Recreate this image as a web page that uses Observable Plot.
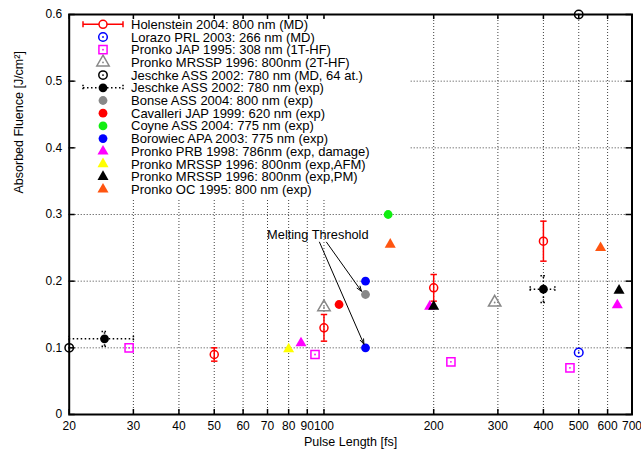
<!DOCTYPE html>
<html><head><meta charset="utf-8">
<script src="https://cdn.jsdelivr.net/npm/d3@7"></script>
<script src="https://cdn.jsdelivr.net/npm/@observablehq/plot@0.6"></script>
<style>
body{margin:0;background:#fff;}
#wrap{position:relative;width:641px;height:451px;font-family:"Liberation Sans",Arial,sans-serif;}
#wrap svg.overlay{position:absolute;left:0;top:0;pointer-events:none;}
</style></head><body><div id="wrap"></div>
<script>
// ---------- data ----------
const xTicks = [20, 30, 40, 50, 60, 70, 80, 90, 100, 200, 300, 400, 500, 600, 700];
const yTicks = [0, 0.1, 0.2, 0.3, 0.4, 0.5, 0.6];
const xLabel = "Pulse Length [fs]";
const yLabel = "Absorbed Fluence [J/cm²]";

const seriesNames = [
  "Holenstein 2004: 800 nm (MD)",
  "Lorazo PRL 2003: 266 nm (MD)",
  "Pronko JAP 1995: 308 nm (1T-HF)",
  "Pronko MRSSP 1996: 800nm (2T-HF)",
  "Jeschke ASS 2002: 780 nm (MD, 64 at.)",
  "Jeschke ASS 2002: 780 nm (exp)",
  "Bonse ASS 2004: 800 nm (exp)",
  "Cavalleri JAP 1999: 620 nm (exp)",
  "Coyne ASS 2004: 775 nm (exp)",
  "Borowiec APA 2003: 775 nm (exp)",
  "Pronko PRB 1998: 786nm (exp, damage)",
  "Pronko MRSSP 1996: 800nm (exp,AFM)",
  "Pronko MRSSP 1996: 800nm (exp,PM)",
  "Pronko OC 1995: 800 nm (exp)"
];

const holensteinX = [50, 100, 200, 400];
const holensteinY = [0.09, 0.13, 0.19, 0.26];
const holensteinErr = [0.01, 0.02, 0.02, 0.03];
const lorazoX = [500];
const lorazoY = [0.093];
const pronkoJapX = [29.2, 94.5, 223, 473];
const pronkoJapY = [0.1, 0.09, 0.079, 0.07];
const pronko2tX = [100, 294];
const pronko2tY = [0.161, 0.168];
const jeschkeMdX = [20, 500];
const jeschkeMdY = [0.1, 0.6];
const jeschkeExpX = [25, 400];
const jeschkeExpY = [0.1135, 0.188];
const jeschkeExpXLow = [20, 368];
const jeschkeExpXHigh = [30, 430];
const jeschkeExpYErr = [0.011, 0.02];
const bonseX = [130, 130];
const bonseY = [0.35, 0.18];
const cavalleriX = [110];
const cavalleriY = [0.165];
const coyneX = [150];
const coyneY = [0.3];
const borowiecX = [130, 130];
const borowiecY = [0.2, 0.1];
const pronkoPrbX = [86.5, 195, 638];
const pronkoPrbY = [0.107, 0.162, 0.164];
const pronkoAfmX = [80];
const pronkoAfmY = [0.098];
const pronkoPmX = [200, 645];
const pronkoPmY = [0.162, 0.186];
const pronkoOcX = [152, 574];
const pronkoOcY = [0.255, 0.25];

const annotationText = ["Melting Threshold"];
const annotationX = [96.2];
const annotationY = [0.27];
const arrowFromX = [97.2, 101.6];
const arrowFromY = [0.2585, 0.2585];
const arrowToX = [130, 128.6];
const arrowToY = [0.1, 0.18];

// ---------- styles ----------
const styles = [
  {color: "#ff0000", symbol: "circle", fill: false, dot: false, r: 4, err: "y"},
  {color: "#0000ff", symbol: "circle", fill: false, dot: true, r: 4.3},
  {color: "#ff00ff", symbol: "square", fill: false, dot: true, r: 4.6},
  {color: "#888888", symbol: "triangle", fill: false, dot: true, r: 4.6},
  {color: "#000000", symbol: "circle", fill: false, dot: true, r: 4.2},
  {color: "#000000", symbol: "circle", fill: true, dot: false, r: 4.4, err: "xy"},
  {color: "#888888", symbol: "circle", fill: true, dot: false, r: 4.4},
  {color: "#ff0000", symbol: "circle", fill: true, dot: false, r: 4.4},
  {color: "#11ee11", symbol: "circle", fill: true, dot: false, r: 4.4},
  {color: "#0000ff", symbol: "circle", fill: true, dot: false, r: 4.4},
  {color: "#ff00ff", symbol: "triangle", fill: true, dot: false, r: 4.1},
  {color: "#ffff00", symbol: "triangle", fill: true, dot: false, r: 4.1},
  {color: "#000000", symbol: "triangle", fill: true, dot: false, r: 4.1},
  {color: "#ff5511", symbol: "triangle", fill: true, dot: false, r: 4.1}
];

const zipXY = (xs, ys, extra = {}) => xs.map((x, i) => {
  const o = {x, y: ys[i]};
  for (const k in extra) o[k] = extra[k][i];
  return o;
});

const seriesData = [
  zipXY(holensteinX, holensteinY, {e: holensteinErr}),
  zipXY(lorazoX, lorazoY),
  zipXY(pronkoJapX, pronkoJapY),
  zipXY(pronko2tX, pronko2tY),
  zipXY(jeschkeMdX, jeschkeMdY),
  zipXY(jeschkeExpX, jeschkeExpY, {xl: jeschkeExpXLow, xh: jeschkeExpXHigh, e: jeschkeExpYErr}),
  zipXY(bonseX, bonseY),
  zipXY(cavalleriX, cavalleriY),
  zipXY(coyneX, coyneY),
  zipXY(borowiecX, borowiecY),
  zipXY(pronkoPrbX, pronkoPrbY),
  zipXY(pronkoAfmX, pronkoAfmY),
  zipXY(pronkoPmX, pronkoPmY),
  zipXY(pronkoOcX, pronkoOcY)
];

// custom cap symbols
const hcap = {draw(ctx, size) { const w = Math.sqrt(size / Math.PI); ctx.moveTo(-w, 0); ctx.lineTo(w, 0); }};
const vcap = {draw(ctx, size) { const w = Math.sqrt(size / Math.PI); ctx.moveTo(0, -w); ctx.lineTo(0, w); }};

// ---------- layout ----------
const W = 641, H = 451;
const mL = 68.7, mR = 9.5, mT = 14, mB = 37;
const frameW = W - mL - mR, frameH = H - mT - mB;
const FONT = "'Liberation Sans', Arial, Helvetica, sans-serif";

const marks = [];
// grid
marks.push(Plot.gridX(xTicks.slice(1, -1), {stroke: "#000", strokeOpacity: 0.75, strokeWidth: 1, strokeDasharray: "1,2"}));
marks.push(Plot.gridY(yTicks.slice(1, -1), {stroke: "#000", strokeOpacity: 0.75, strokeWidth: 1, strokeDasharray: "1,2"}));
// inward ticks
marks.push(Plot.tickX(xTicks, {insetTop: frameH - 5, stroke: "#000", strokeWidth: 1.5}));
marks.push(Plot.tickX(xTicks, {insetBottom: frameH - 5, stroke: "#000", strokeWidth: 1.5}));
marks.push(Plot.tickY(yTicks, {insetRight: frameW - 6, stroke: "#000", strokeWidth: 1.5}));
marks.push(Plot.tickY(yTicks, {insetLeft: frameW - 6, stroke: "#000", strokeWidth: 1.5}));
// tick labels
marks.push(Plot.text(xTicks, {x: d => d, text: d => String(d), frameAnchor: "bottom", dy: 15, fontSize: 12, fill: "#000"}));
marks.push(Plot.text(yTicks, {y: d => d, text: d => String(d), frameAnchor: "left", dx: -7, textAnchor: "end", fontSize: 12, fill: "#000"}));
// axis titles
marks.push(Plot.text([xLabel], {frameAnchor: "bottom", dy: 31, fontSize: 12.5, fill: "#000"}));
marks.push(Plot.text([yLabel], {frameAnchor: "left", rotate: -90, dx: -50, dy: -21, fontSize: 12.5, fill: "#000"}));

// error bars
const hol = seriesData[0];
marks.push(Plot.ruleX(hol, {x: "x", y1: d => d.y - d.e, y2: d => d.y + d.e, stroke: styles[0].color, strokeWidth: 1.5}));
marks.push(Plot.dot(hol, {x: "x", y: d => d.y - d.e, symbol: hcap, r: 3.2, stroke: styles[0].color, strokeWidth: 1.5, fill: "none"}));
marks.push(Plot.dot(hol, {x: "x", y: d => d.y + d.e, symbol: hcap, r: 3.2, stroke: styles[0].color, strokeWidth: 1.5, fill: "none"}));
const jex = seriesData[5];
marks.push(Plot.ruleY(jex, {y: "y", x1: "xl", x2: "xh", stroke: "#000", strokeWidth: 1.5, strokeDasharray: "1.5,2.5"}));
marks.push(Plot.ruleX(jex, {x: "x", y1: d => d.y - d.e, y2: d => d.y + d.e, stroke: "#000", strokeWidth: 1.5, strokeDasharray: "1.5,2.5"}));
marks.push(Plot.dot(jex, {x: "xl", y: "y", symbol: vcap, r: 3, stroke: "#000", strokeWidth: 1.5, strokeDasharray: "1.5,1.5", fill: "none"}));
marks.push(Plot.dot(jex, {x: "xh", y: "y", symbol: vcap, r: 3, stroke: "#000", strokeWidth: 1.5, strokeDasharray: "1.5,1.5", fill: "none"}));
marks.push(Plot.dot(jex, {x: "x", y: d => d.y - d.e, symbol: hcap, r: 3, stroke: "#000", strokeWidth: 1.5, strokeDasharray: "1.5,1.5", fill: "none"}));
marks.push(Plot.dot(jex, {x: "x", y: d => d.y + d.e, symbol: hcap, r: 3, stroke: "#000", strokeWidth: 1.5, strokeDasharray: "1.5,1.5", fill: "none"}));

// points
seriesData.forEach((data, i) => {
  const s = styles[i];
  if (s.fill) {
    marks.push(Plot.dot(data, {x: "x", y: "y", symbol: s.symbol, r: s.r, fill: s.color, stroke: "none"}));
  } else {
    marks.push(Plot.dot(data, {x: "x", y: "y", symbol: s.symbol, r: s.r, fill: "none", stroke: s.color, strokeWidth: 1.5}));
    if (s.dot) marks.push(Plot.dot(data, {x: "x", y: "y", r: 0.9, fill: s.color, stroke: "none"}));
  }
});

// annotation
const arrows = arrowFromX.map((x, i) => ({x1: x, y1: arrowFromY[i], x2: arrowToX[i], y2: arrowToY[i]}));
marks.push(Plot.arrow(arrows, {x1: "x1", y1: "y1", x2: "x2", y2: "y2", stroke: "#000", strokeWidth: 1, headLength: 8, headAngle: 40, insetEnd: 4}));
marks.push(Plot.text(annotationText.map((t, i) => ({t, x: annotationX[i], y: annotationY[i]})), {x: "x", y: "y", text: "t", fontSize: 12.8, fill: "#000"}));

// frame
marks.push(Plot.frame({stroke: "#000", strokeWidth: 2}));

const chart = Plot.plot({
  width: W, height: H,
  marginLeft: mL, marginRight: mR, marginTop: mT, marginBottom: mB,
  style: {fontFamily: FONT, fontSize: "12px", color: "#000", background: "#fff", overflow: "visible"},
  x: {type: "log", domain: [20, 700], axis: null},
  y: {type: "linear", domain: [0, 0.6], axis: null},
  marks
});
const wrap = document.getElementById("wrap");
wrap.appendChild(chart);

// ---------- legend (overlay inside the plot area) ----------
const leg = d3.select(wrap).append("svg").attr("class", "overlay")
  .attr("width", W).attr("height", H)
  .style("font-family", FONT).style("font-size", "13px");
leg.append("rect").attr("x", 76).attr("y", 20).attr("width", 334).attr("height", 178).attr("fill", "#fff");
const symX = 103, textX = 131, row0 = 24.3, rowH = 12.7;
const symGen = {circle: d3.symbolCircle, square: d3.symbolSquare, triangle: d3.symbolTriangle};
seriesNames.forEach((name, i) => {
  const s = styles[i];
  const cy = row0 + i * rowH;
  const g = leg.append("g");
  if (s.err === "y") {
    g.append("line").attr("x1", 83).attr("x2", 123).attr("y1", cy).attr("y2", cy).attr("stroke", s.color).attr("stroke-width", 1.5);
    [83, 123].forEach(x => g.append("line").attr("x1", x).attr("x2", x).attr("y1", cy - 3).attr("y2", cy + 3).attr("stroke", s.color).attr("stroke-width", 1.5));
  }
  if (s.err === "xy") {
    g.append("line").attr("x1", 83).attr("x2", 123).attr("y1", cy).attr("y2", cy).attr("stroke", s.color).attr("stroke-width", 1.5).attr("stroke-dasharray", "1.5,2.5");
    [83, 123].forEach(x => g.append("line").attr("x1", x).attr("x2", x).attr("y1", cy - 3).attr("y2", cy + 3).attr("stroke", s.color).attr("stroke-width", 1.5).attr("stroke-dasharray", "1.5,1.5"));
  }
  const path = d3.symbol(symGen[s.symbol], Math.PI * s.r * s.r)();
  const p = g.append("path").attr("d", path).attr("transform", `translate(${symX},${cy})`);
  if (s.fill) p.attr("fill", s.color);
  else p.attr("fill", s.err ? "#fff" : "none").attr("stroke", s.color).attr("stroke-width", 1.5);
  if (s.dot) g.append("circle").attr("cx", symX).attr("cy", cy).attr("r", 0.9).attr("fill", s.color);
  g.append("text").attr("x", textX).attr("y", cy).attr("dy", "0.35em").attr("fill", "#000").text(name);
});
</script>
</body></html>
